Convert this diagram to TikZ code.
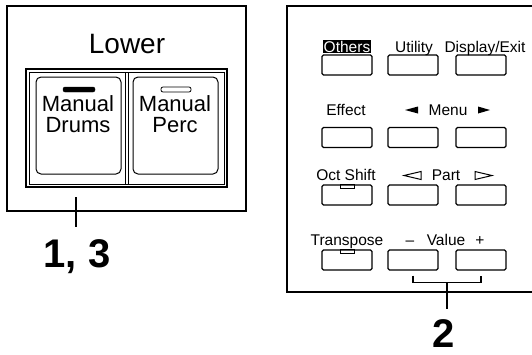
\documentclass[tikz,border=0pt]{standalone}
\usepackage{fontspec}
\setmainfont{Liberation Sans}
\usetikzlibrary{positioning,calc}

\begin{document}
\begin{tikzpicture}[
    x=1pt, y=-1pt,
    panel/.style={draw, line width=1.6pt},
    bigkey/.style={
        rectangle,
        draw,
        line width=1pt,
        rounded corners=5pt,
        minimum width=85pt,
        minimum height=97pt,
        inner sep=0pt
    },
    key/.style={
        rectangle,
        draw,
        line width=1.1pt,
        rounded corners=1.5pt,
        minimum width=50pt,
        minimum height=20pt,
        inner sep=0pt
    },
    keytext/.style={font=\fontsize{22}{21}\selectfont, align=center, inner sep=0pt, anchor=base},
    tag/.style={font=\fontsize{15.5}{15.5}\selectfont, inner sep=0pt, anchor=base},
    callout/.style={font=\fontsize{40}{40}\bfseries\selectfont, inner sep=0pt, anchor=base}
]
\useasboundingbox (0,0) rectangle (532,354);

% Lower section (left panel)
\draw[panel] (7,6) rectangle (246,211);
\node[font=\fontsize{28}{28}\selectfont, inner sep=0pt, anchor=base] (lower) at (127,53) {Lower};

% double frame round the two big keys
\draw[line width=1.2pt] (26,69) rectangle (227,187);
\draw[line width=0.8pt] (29,72) rectangle (224,184);
\draw[line width=0.8pt] (125.5,72) -- (125.5,184);
\draw[line width=0.8pt] (128.5,72) -- (128.5,184);

\node[bigkey] (drums) at (78.5,125.5) {};
\node[bigkey] (perc)  at (175.5,125.5) {};

% indicators: lit on Drums, unlit on Perc
\draw[fill=black, rounded corners=2pt] (63,87) rectangle (95,92);
\draw[line width=0.8pt, rounded corners=2pt] (161,87) rectangle (191,92);

\node[keytext] (drumstxt) at (78,132) {Manual\\Drums};
\node[keytext] (perctxt)  at (175,132) {Manual\\Perc};

% step callout 1, 3
\coordinate (tickA) at (76,197);
\coordinate (tickB) at (76,227);
\draw[line width=1.3pt] (tickA) -- (tickB);
\node[callout] (lbl13) at (77,267) {1, 3};

% Panel buttons (right panel)
\draw[panel] (540,6) -- (287,6) -- (287,292) -- (540,292);

% row 1
\node[key] (others)  at (347,65) {};
\node[key] (utility) at (413,65) {};
\node[key] (display) at (481,65) {};
\node[tag, fill=black, text=white, inner sep=1pt] (othtxt) at (347,52) {Others};
\node[tag] (utiltxt) at (414,52) {Utility};
\node[tag] (disptxt) at (485,52) {Display/Exit};

% row 2
\node[key] (effect) at (347,137.5) {};
\node[key] (menul)  at (413,137.5) {};
\node[key] (menur)  at (481,137.5) {};
\node[tag] (efftxt)  at (346,115) {Effect};
\node[tag] (menutxt) at (448,115) {Menu};
\fill (405,110) -- (418,106.5) -- (418,113.5) -- cycle;
\fill (490,110) -- (478,106.5) -- (478,113.5) -- cycle;

% row 3
\node[key] (octshift) at (347,195) {};
\node[key] (partl)    at (413,195) {};
\node[key] (partr)    at (481,195) {};
\draw[line width=0.8pt] ($(octshift.north)+(-7,0)$) rectangle ++(14,3.5);
\node[tag] (octtxt)  at (346,180) {Oct Shift};
\node[tag] (parttxt) at (446,180) {Part};
\draw[line width=1pt] (421,171.5) -- (404,175.5) -- (421,179.5) -- cycle;
\draw[line width=1pt] (475,171.5) -- (492,175.5) -- (475,179.5) -- cycle;

% row 4
\node[key] (transp) at (347,260) {};
\node[key] (valm)   at (413,260) {};
\node[key] (valp)   at (481,260) {};
\draw[line width=0.8pt] ($(transp.north)+(-7,0)$) rectangle ++(14,3.5);
\node[tag] (trtxt)   at (347,245) {Transpose};
\node[tag] (valtxt)  at (446,245) {Value};
\node[tag] (minustxt) at (410,245) {--};
\node[tag] (plustxt)  at (480,245) {+};

% step callout 2
\coordinate (brL) at ($(valm.south)+(0,5)$);
\coordinate (brR) at ($(valp.south)+(0,5)$);
\coordinate (brM) at ($(brL)!0.5!(brR)+(0,7)$);
\draw[line width=1.3pt] (brL) -- ++(0,7) -| (brR);
\draw[line width=1.3pt] (brM) -- ++(0,26);
\node[callout] (lbl2) at (444,347) {2};

\end{tikzpicture}
\end{document}
